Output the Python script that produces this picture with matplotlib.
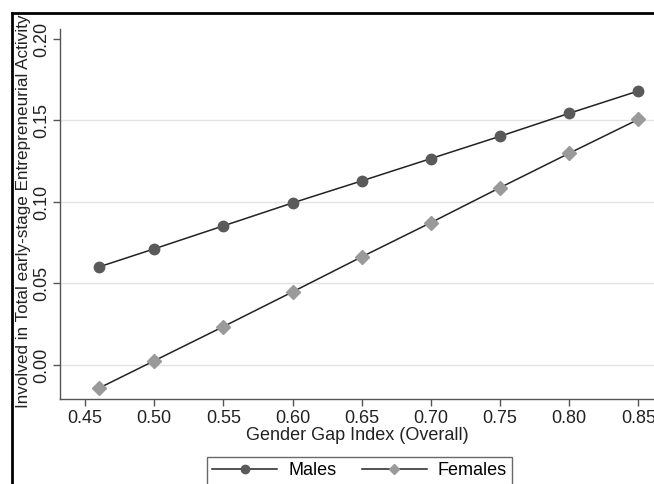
"""Predicted TEA involvement by Gender Gap Index, males vs females."""

import matplotlib

matplotlib.use("Agg")
import matplotlib.pyplot as plt
from matplotlib.lines import Line2D

plt.rcParams["font.family"] = ["Liberation Sans", "DejaVu Sans"]

# ─── Data ────────────────────────────────────────────────────────────
gender_gap = [0.46, 0.50, 0.55, 0.60, 0.65, 0.70, 0.75, 0.80, 0.85]
males = [0.0601, 0.0712, 0.0853, 0.0994, 0.1129, 0.1266, 0.1403, 0.1544, 0.1681]
females = [-0.0143, 0.0025, 0.0235, 0.0448, 0.0663, 0.0873, 0.1088, 0.1299, 0.1507]

x_ticks = [0.45, 0.50, 0.55, 0.60, 0.65, 0.70, 0.75, 0.80, 0.85]
y_ticks = [0.00, 0.05, 0.10, 0.15, 0.20]
grid_levels = [0.00, 0.05, 0.10, 0.15]

FS = 13
W, H = 654, 484
AX_L, AX_B, AX_T = 60, 399, 29
fig = plt.figure(figsize=(W / 100, H / 100), dpi=100)
ax = fig.add_axes([AX_L / W, 1 - AX_B / H, 1 - AX_L / W, (AX_B - AX_T) / H])

for g in grid_levels:
    ax.axhline(g, color="#e3e3e3", lw=1.0, zorder=0)

ax.plot(gender_gap, males, color="#222222", lw=1.1, marker="o", ms=7.5,
        mfc="#5a5a5a", mec="#5a5a5a", label="Males", zorder=3)
ax.plot(gender_gap, females, color="#222222", lw=1.1, marker="D", ms=7,
        mfc="#9a9a9a", mec="#9a9a9a", label="Females", zorder=3)

ax.set_xlim(0.432, 0.8612)
ax.set_ylim(-0.0209, 0.2061)
ax.set_xticks(x_ticks)
ax.set_xticklabels([f"{t:.2f}" for t in x_ticks])
ax.set_yticks(y_ticks)
ax.set_yticklabels([f"{t:.2f}" for t in y_ticks], rotation=90, va="center")

for side in ("top", "right"):
    ax.spines[side].set_visible(False)
for side in ("left", "bottom"):
    ax.spines[side].set_color("#555555")
    ax.spines[side].set_linewidth(1.0)
ax.tick_params(colors="#555555", labelcolor="#222222", labelsize=FS,
               length=5, width=1.0, direction="out")
ax.tick_params(axis="x", pad=3)
ax.tick_params(axis="y", pad=2)

ax.set_xlabel("Gender Gap Index (Overall)", fontsize=FS, color="#222222",
              labelpad=0)
ax.set_ylabel("Involved in Total early-stage Entrepreneurial Activity",
              fontsize=12.3, color="#222222")
# right edge of the rotated label sits just left of the tick labels
ax.yaxis.set_label_coords((31 - AX_L) / (W - AX_L), (AX_B - 211) / (AX_B - AX_T))

leg = fig.legend(loc="upper left", bbox_to_anchor=(207 / W, 1 - 457 / H),
                 borderaxespad=0, ncol=2, fontsize=FS, frameon=True,
                 fancybox=False, handlelength=3.6, columnspacing=1.4,
                 borderpad=0.3, handletextpad=0.6, markerscale=0.8)
leg.get_frame().set_edgecolor("#444444")
leg.get_frame().set_linewidth(1.0)

# outer frame of the (cropped) graph window
fy = 1 - 13 / H
fx = 12 / W
fig.add_artist(Line2D([fx, fx], [0, fy], transform=fig.transFigure,
                      color="black", lw=2))
fig.add_artist(Line2D([fx, 1], [fy, fy], transform=fig.transFigure,
                      color="black", lw=2))

fig.savefig("out.png", dpi=100)
